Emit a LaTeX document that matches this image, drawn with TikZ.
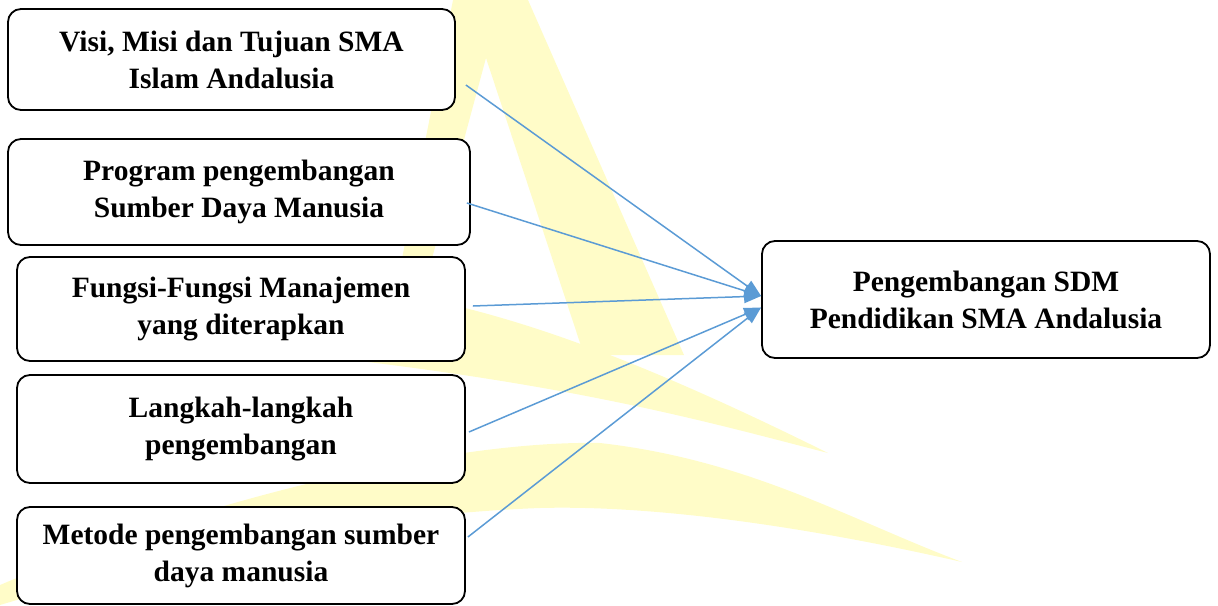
\documentclass[tikz,border=0pt]{standalone}
\usepackage{fontspec}
\setmainfont{Liberation Serif}
\usetikzlibrary{arrows.meta}
\definecolor{arrowblue}{RGB}{91,155,213}
\definecolor{wmyellow}{RGB}{255,252,200}
\tikzset{
  box/.style={draw=black, line width=1.8pt, rounded corners=13pt, fill=white,
    align=center, inner sep=0pt,
    font=\fontsize{29.5pt}{37pt}\selectfont\bfseries},
  link/.style={draw=arrowblue, line width=1.5pt,
    -{Triangle[length=17pt,width=13pt]}},
  mark wm/.style={fill=wmyellow, draw=none}
}
\begin{document}
\begin{tikzpicture}[x=1pt,y=-1pt]
\useasboundingbox (0,0) rectangle (1218,605);
% watermark
\path[mark wm] (453,0) -- (528,0) -- (684,355) -- (584,355) -- (486,58) -- (406,355) -- (383,355) -- cycle;
\path[mark wm] (260,280) .. controls (420,285) and (560,320) .. (828,453)
  .. controls (700,420) and (560,380) .. (260,350) -- cycle;
\path[mark wm] (0,585) .. controls (200,500) and (450,440) .. (600,443)
  .. controls (750,460) and (850,520) .. (962,562)
  .. controls (800,525) and (650,505) .. (540,508)
  .. controls (350,515) and (150,560) .. (0,605) -- cycle;
% boxes
\node[box, minimum width=447pt, minimum height=101pt] (b1) at (231.5,59.5)
  {Visi, Misi dan Tujuan SMA\\Islam Andalusia};
\node[box, minimum width=462pt, minimum height=106pt] (b2) at (239,192)
  {Program pengembangan\\Sumber Daya Manusia};
\node[box, minimum width=448pt, minimum height=104pt] (b3) at (241,309)
  {Fungsi-Fungsi Manajemen\\yang diterapkan};
\node[box, minimum width=448pt, minimum height=108pt] (b4) at (241,429)
  {Langkah-langkah\\pengembangan};
\node[box, minimum width=448pt, minimum height=97pt] (b5) at (241,555.5)
  {Metode pengembangan sumber\\daya manusia};
\node[box, minimum width=448pt, minimum height=117pt] (t) at (986,299.5)
  {Pengembangan SDM\\Pendidikan SMA Andalusia};
% connectors
\draw[link] ([shift={(10,25.5)}]b1.east) -- ([yshift=3.5pt]t.west);
\draw[link] ([shift={(-4,11)}]b2.east) -- ([yshift=3.5pt]t.west);
\draw[link] ([shift={(7,-3)}]b3.east) -- ([yshift=3.5pt]t.west);
\draw[link] ([shift={(3,3)}]b4.east) -- ([yshift=-8pt]t.west);
\draw[link] ([shift={(2,-18.5)}]b5.east) -- ([yshift=-8pt]t.west);
\end{tikzpicture}
\end{document}
